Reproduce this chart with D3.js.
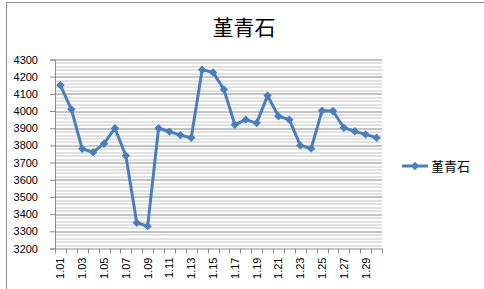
<!DOCTYPE html>
<html>
<head>
<meta charset="utf-8">
<script src="https://cdn.jsdelivr.net/npm/d3@7"></script>
<style>
body{margin:0;background:#fff;}
svg{display:block;}
</style>
</head>
<body>
<div id="canvas"></div>
<script>
// data
var dates = ['1.01','1.02','1.03','1.04','1.05','1.06','1.07','1.08','1.09','1.10',
             '1.11','1.12','1.13','1.14','1.15','1.16','1.17','1.18','1.19','1.20',
             '1.21','1.22','1.23','1.24','1.25','1.26','1.27','1.28','1.29','1.30'];
var prices = [4150,4010,3780,3760,3810,3900,3740,3350,3330,3900,
              3880,3860,3845,4240,4225,4125,3920,3950,3930,4090,
              3970,3950,3800,3782,4002,4000,3903,3882,3864,3845];
var yTicks = [3200,3300,3400,3500,3600,3700,3800,3900,4000,4100,4200,4300];
var seriesName = '堇青石';

var W = 484, H = 289;
var m = {t:59.5, r:102, b:40.5, l:55};
var w = W - m.l - m.r,
    h = H - m.t - m.b;
var blue = '#4a7ebb';

var svg = d3.select('#canvas')
    .append('svg')
    .attr('width',W)
    .attr('height',H);

// chart frame
svg.append('rect')
    .attr('x',6.5).attr('y',2.5)
    .attr('width',W).attr('height',H)
    .attr('fill','none').attr('stroke','#8c8c8c');

svg.append('text')
    .attr('x',244).attr('y',35)
    .attr('text-anchor','middle')
    .style('font-family','"Noto Sans CJK SC"')
    .style('font-size','21px')
    .text(seriesName);

var plot = svg.append('g')
    .attr('transform','translate(' + m.l + ',' + m.t + ')');

var y = d3.scaleLinear().domain([3200,4300]).range([h,0]);
var x = d3.scaleBand().domain(dates).range([0,w]);

// minor gridlines every 20
plot.append('g').selectAll('line')
    .data(d3.range(3220,4300,20).filter(function(v){return v%100!==0;}))
    .enter().append('line')
    .attr('x1',0).attr('x2',w)
    .attr('y1',function(d){return Math.round(y(d))+0.5;})
    .attr('y2',function(d){return Math.round(y(d))+0.5;})
    .attr('stroke','#c4c4c4');

// major gridlines
plot.append('g').selectAll('line')
    .data(yTicks.slice(1))
    .enter().append('line')
    .attr('x1',0).attr('x2',w)
    .attr('y1',function(d){return Math.round(y(d))+0.5;})
    .attr('y2',function(d){return Math.round(y(d))+0.5;})
    .attr('stroke','#8a8a8a');

// y axis
var axisY = d3.axisLeft(y).tickValues(yTicks).tickFormat(d3.format('d')).tickSize(5).tickPadding(12);
var gy = plot.append('g').call(axisY);
gy.select('.domain').attr('stroke','#8a8a8a');
gy.selectAll('.tick line').attr('stroke','#8a8a8a');
gy.selectAll('text')
    .style('font-family','"Liberation Sans"')
    .style('font-size','11px')
    .attr('fill','#000');

// x axis: ticks at category boundaries, labels every other day
var gx = plot.append('g').attr('transform','translate(0,' + h + ')');
gx.append('line').attr('x1',0).attr('x2',w).attr('y1',0.5).attr('y2',0.5).attr('stroke','#8a8a8a');
gx.selectAll('.tk')
    .data(dates.concat(['end']))
    .enter().append('line')
    .attr('class','tk')
    .attr('x1',function(d,i){return Math.round(i*x.step())+0.5;})
    .attr('x2',function(d,i){return Math.round(i*x.step())+0.5;})
    .attr('y1',0).attr('y2',5)
    .attr('stroke','#8a8a8a');
gx.selectAll('text')
    .data(dates.filter(function(d,i){return i%2===0;}))
    .enter().append('text')
    .attr('transform',function(d){return 'translate(' + (x(d)+x.bandwidth()/2+4) + ',9) rotate(-90)';})
    .attr('text-anchor','end')
    .style('font-family','"Liberation Sans"')
    .style('font-size','11px')
    .text(function(d){return d;});

// series
var line = d3.line()
    .x(function(d,i){return x(dates[i])+x.bandwidth()/2;})
    .y(function(d){return y(d);});
plot.append('path')
    .datum(prices)
    .attr('d',line)
    .attr('fill','none')
    .attr('stroke',blue)
    .attr('stroke-width',3)
    .attr('stroke-linejoin','round');

var diamond = d3.symbol().type(d3.symbolDiamond2).size(45);
plot.selectAll('.pt')
    .data(prices)
    .enter().append('path')
    .attr('class','pt')
    .attr('d',diamond)
    .attr('transform',function(d,i){return 'translate(' + (x(dates[i])+x.bandwidth()/2) + ',' + y(d) + ')';})
    .attr('fill',blue);

// legend
var lg = svg.append('g').attr('transform','translate(402,166)');
lg.append('line').attr('x1',0).attr('x2',26).attr('y1',0).attr('y2',0)
    .attr('stroke',blue).attr('stroke-width',3);
lg.append('path').attr('d',diamond).attr('transform','translate(13,0)').attr('fill',blue);
lg.append('text')
    .attr('x',29).attr('y',5)
    .style('font-family','"Noto Sans CJK SC"')
    .style('font-size','13px')
    .text(seriesName);
</script>
</body>
</html>
